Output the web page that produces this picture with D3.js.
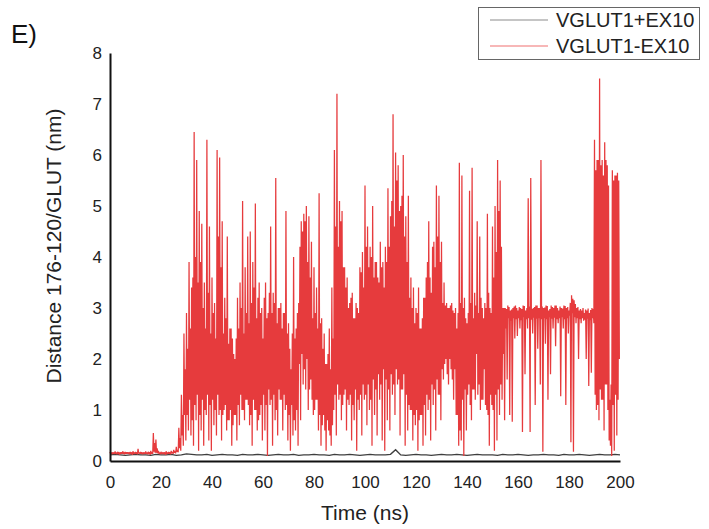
<!DOCTYPE html>
<html>
<head>
<meta charset="utf-8">
<script src="https://cdn.jsdelivr.net/npm/d3@7"></script>
<style>
  html, body { margin: 0; padding: 0; background: #fff; }
  svg { display: block; font-family: "Liberation Sans", Arial, sans-serif; }
</style>
</head>
<body>
<svg id="chart" width="709" height="529"></svg>
<script>
// Distance trace, four samples per nanosecond, in time order:
// redUpper (t), redMidLow (t+0.25), redMidHigh (t+0.5), redLower (t+0.75).
const redUpper = [
  0.18,0.17,0.19,0.18,0.17,0.19,0.18,0.17,0.18,0.19,   // 0-9
  0.18,0.24,0.18,0.17,0.19,0.18,0.20,0.55,0.42,0.20,   // 10-19
  0.18,0.17,0.19,0.18,0.20,0.22,0.28,0.65,1.30,2.50,   // 20-29
  2.90,3.90,3.40,6.45,5.90,4.90,4.65,3.50,6.30,4.60,   // 30-39
  3.60,3.10,6.10,5.95,4.70,3.20,4.40,2.60,2.40,2.00,   // 40-49
  3.20,3.50,5.10,3.80,4.40,4.50,3.90,5.05,3.20,2.90,   // 50-59
  2.40,3.50,2.90,4.60,3.30,5.55,3.00,3.10,2.90,4.90,   // 60-69
  2.70,1.80,4.00,2.60,3.10,4.70,4.85,5.00,4.80,4.30,   // 70-79
  3.80,3.40,5.25,2.80,2.50,1.90,2.60,3.40,6.10,7.20,   // 80-89
  5.10,4.90,3.80,3.60,3.10,3.30,2.80,3.00,3.80,4.10,   // 90-99
  5.40,4.60,4.20,5.00,3.90,3.60,4.30,3.90,4.20,5.35,   // 100-109
  4.80,6.80,6.05,5.80,5.00,6.00,4.80,5.20,3.60,3.40,   // 110-119
  3.00,3.40,2.60,3.20,3.60,4.70,3.30,4.30,5.40,5.20,   // 120-129
  4.30,3.50,3.10,3.00,3.10,2.90,2.60,5.85,5.60,3.20,   // 130-139
  2.70,5.30,5.75,3.30,4.70,4.40,3.00,3.10,4.85,3.00,   // 140-149
  4.60,5.00,5.90,5.50,3.00,3.00,3.05,2.95,3.00,3.05,   // 150-159
  2.95,3.00,3.05,2.95,5.15,5.55,3.00,3.05,3.00,5.90,   // 160-169
  3.00,3.05,2.95,3.05,3.00,3.05,2.95,3.00,3.05,3.00,   // 170-179
  2.95,3.25,3.15,3.00,2.95,2.95,2.90,2.95,2.90,3.00,   // 180-189
  6.30,5.90,7.50,5.90,6.25,5.80,1.20,5.70,5.60,5.65    // 190-199
];
const redMidLow = [
  0.14,0.15,0.14,0.15,0.14,0.15,0.14,0.15,0.14,0.15,   // 0-9
  0.14,0.15,0.14,0.15,0.14,0.15,0.14,0.18,0.16,0.14,   // 10-19
  0.15,0.14,0.15,0.14,0.15,0.16,0.18,0.25,0.50,0.90,   // 20-29
  0.90,1.20,0.80,1.10,1.30,0.90,1.20,1.00,1.30,1.10,   // 30-39
  1.20,1.00,1.30,1.00,0.90,1.10,0.80,1.00,0.70,0.90,   // 40-49
  1.10,1.30,1.00,1.20,1.10,0.90,1.20,1.00,0.80,1.10,   // 50-59
  1.30,1.10,1.40,1.20,1.30,1.00,1.40,1.20,1.30,1.10,   // 60-69
  0.90,1.10,0.80,1.00,1.90,2.10,1.80,2.00,1.40,1.20,   // 70-79
  1.00,1.20,0.90,0.70,0.60,0.80,0.50,0.70,1.30,1.50,   // 80-89
  1.30,1.10,1.40,1.20,1.30,1.10,1.40,1.20,1.30,1.50,   // 90-99
  1.30,1.50,1.20,1.60,1.40,1.70,1.50,1.80,1.60,1.40,   // 100-109
  1.70,1.50,1.80,1.60,1.40,1.70,1.30,1.10,1.00,0.90,   // 110-119
  1.00,0.80,0.90,1.10,1.30,1.20,1.50,1.40,1.60,1.30,   // 120-129
  1.80,1.90,1.70,2.00,1.60,1.80,0.90,0.60,1.20,1.40,   // 130-139
  1.30,1.10,1.40,1.20,1.30,1.00,1.20,1.10,0.90,1.30,   // 140-149
  1.00,1.30,1.40,1.50,2.10,2.60,2.80,2.75,2.80,2.78,   // 150-159
  2.80,2.76,2.82,2.78,2.80,2.77,2.81,2.79,2.80,2.78,   // 160-169
  2.80,2.78,2.82,2.79,2.81,2.78,2.80,2.82,2.78,2.80,   // 170-179
  2.85,2.90,2.82,2.80,2.78,2.80,2.77,2.79,2.76,2.80,   // 180-189
  1.30,1.10,1.40,1.20,1.50,1.00,0.30,1.10,1.30,1.20    // 190-199
];
const redMidHigh = [
  0.17,0.16,0.17,0.16,0.17,0.16,0.17,0.16,0.17,0.16,   // 0-9
  0.17,0.16,0.17,0.16,0.17,0.16,0.17,0.35,0.25,0.17,   // 10-19
  0.16,0.17,0.16,0.17,0.18,0.19,0.22,0.45,0.90,1.80,   // 20-29
  2.20,2.60,3.60,4.00,3.50,3.90,3.00,2.60,3.30,2.50,   // 30-39
  2.90,2.40,4.40,3.80,2.50,2.80,2.30,2.60,2.10,2.40,   // 40-49
  2.60,3.00,2.50,2.90,2.70,3.10,3.40,2.80,3.50,3.00,   // 50-59
  3.20,2.80,3.30,2.90,3.10,2.70,3.00,2.60,2.90,2.50,   // 60-69
  2.20,2.50,2.40,2.90,4.20,4.50,4.70,3.90,3.60,2.80,   // 70-79
  2.90,2.60,2.70,2.20,1.90,2.10,1.80,2.40,4.60,4.20,   // 80-89
  4.70,3.80,3.40,3.00,3.20,2.80,3.10,2.90,3.70,3.40,   // 90-99
  4.20,3.80,4.00,3.60,3.90,3.50,3.80,3.40,3.90,4.20,   // 100-109
  5.10,4.60,5.50,4.90,5.20,4.40,3.90,3.20,3.00,2.70,   // 110-119
  2.90,2.60,2.80,3.20,3.90,3.60,4.20,3.80,4.40,3.90,   // 120-129
  3.10,3.05,3.00,3.05,2.95,3.00,2.90,3.10,3.00,2.80,   // 130-139
  2.90,3.10,2.80,3.05,2.90,3.20,2.80,3.00,3.30,2.90,   // 140-149
  3.60,4.10,4.90,4.20,3.00,2.98,3.02,2.97,3.03,3.00,   // 150-159
  3.02,2.98,3.04,3.00,3.03,2.98,3.02,3.05,3.00,3.03,   // 160-169
  3.01,3.04,2.98,3.02,3.05,3.00,3.03,2.99,3.04,3.02,   // 170-179
  3.10,3.18,3.08,3.02,2.98,3.00,2.97,2.99,2.96,2.98,   // 180-189
  5.70,5.90,5.80,5.60,5.90,5.40,1.50,5.50,5.60,5.50    // 190-199
];
const redLower = [
  0.13,0.14,0.13,0.12,0.14,0.13,0.14,0.13,0.12,0.14,   // 0-9
  0.13,0.14,0.13,0.14,0.13,0.12,0.14,0.16,0.15,0.13,   // 10-19
  0.13,0.12,0.14,0.13,0.14,0.15,0.17,0.20,0.30,0.40,   // 20-29
  0.60,0.50,0.30,0.80,0.20,0.60,0.30,0.90,0.40,0.20,   // 30-39
  0.70,0.50,0.90,0.40,1.00,0.60,0.80,0.30,0.90,0.40,   // 40-49
  0.70,1.00,0.80,1.20,0.70,0.30,1.00,0.60,0.90,0.40,   // 50-59
  0.60,0.10,1.10,0.30,0.80,0.50,1.20,0.60,1.00,0.40,   // 60-69
  0.20,0.50,0.60,0.30,0.80,1.50,1.40,1.00,1.60,0.90,   // 70-79
  1.20,0.60,0.30,0.90,0.20,0.60,0.30,1.00,0.50,1.20,   // 80-89
  0.80,1.30,0.60,1.10,0.40,0.80,0.20,1.00,0.50,1.20,   // 90-99
  0.70,1.00,0.30,0.90,0.50,1.20,0.40,0.20,0.80,0.60,   // 100-109
  1.30,0.90,1.50,0.50,1.40,0.30,0.60,1.00,0.40,0.70,   // 110-119
  0.20,0.90,0.30,0.50,1.00,0.40,1.10,0.60,1.30,0.80,   // 120-129
  1.60,2.00,1.50,1.80,1.20,0.90,0.30,0.40,0.10,0.60,   // 130-139
  1.50,0.80,1.40,2.10,1.50,1.20,1.80,1.00,0.30,1.10,   // 140-149
  0.20,0.40,0.90,1.20,0.80,1.60,0.90,0.77,2.40,2.45,   // 150-159
  2.60,0.57,1.70,2.60,0.57,2.50,1.10,2.20,1.50,0.18,   // 160-169
  2.30,1.20,1.70,2.60,2.25,2.70,1.27,2.60,1.10,2.50,   // 170-179
  0.37,0.18,2.70,2.00,2.70,2.75,2.00,1.47,1.73,2.70,   // 180-189
  1.00,0.80,1.20,0.60,1.50,0.40,0.10,0.20,0.50,2.00    // 190-199
];
const redSamplesPerNs = 4;

// Second trace, sampled every 2 ns from 0 to 200 ns
const blackValues = [
  0.12,0.13,0.12,0.11,0.12,0.13,0.12,0.12,0.11,0.13,
  0.12,0.12,0.13,0.11,0.12,0.14,0.13,0.12,0.12,0.13,
  0.11,0.12,0.13,0.12,0.12,0.11,0.13,0.12,0.12,0.13,
  0.12,0.11,0.12,0.13,0.12,0.12,0.13,0.11,0.12,0.12,
  0.13,0.12,0.12,0.11,0.13,0.12,0.12,0.13,0.12,0.11,
  0.12,0.13,0.12,0.12,0.12,0.13,0.22,0.12,0.11,0.12,
  0.13,0.12,0.12,0.11,0.12,0.13,0.12,0.12,0.13,0.12,
  0.11,0.12,0.13,0.12,0.12,0.12,0.11,0.13,0.12,0.12,
  0.13,0.12,0.11,0.12,0.12,0.13,0.12,0.12,0.11,0.13,
  0.12,0.12,0.13,0.12,0.11,0.12,0.13,0.12,0.12,0.13,
  0.12
];
const blackStepNs = 2;

const xTicks = [0, 20, 40, 60, 80, 100, 120, 140, 160, 180, 200];
const yTicks = [0, 1, 2, 3, 4, 5, 6, 7, 8];
const seriesNames = ["VGLUT1+EX10", "VGLUT1-EX10"];
const seriesColors = ["#3f3f3f", "#e63b3d"];
const legendColors = ["#8c8c8c", "#ef7070"];

const svg = d3.select("#chart");
const x = d3.scaleLinear().domain([0, 200]).range([110, 620]);
const y = d3.scaleLinear().domain([0, 8]).range([461, 53]);

// Point lists
const blackPts = blackValues.map((v, i) => [i * blackStepNs, v]);
const redPts = [];
const dt = 1 / redSamplesPerNs;
redUpper.forEach((v, i) => {
  redPts.push([i, v]);
  redPts.push([i + dt, redMidLow[i]]);
  redPts.push([i + 2 * dt, redMidHigh[i]]);
  redPts.push([i + 3 * dt, redLower[i]]);
});

const line = d3.line().x(d => x(d[0])).y(d => y(d[1]));

svg.append("path")
  .attr("d", line(blackPts))
  .attr("fill", "none")
  .attr("stroke", seriesColors[0])
  .attr("stroke-width", 1.4);

svg.append("path")
  .attr("d", line(redPts))
  .attr("fill", "none")
  .attr("stroke", seriesColors[1])
  .attr("stroke-width", 1.25)
  .attr("stroke-linejoin", "miter")
  .attr("stroke-miterlimit", 2);

// Axes
const xAxis = svg.append("g")
  .attr("transform", `translate(0,${y(0)})`)
  .call(d3.axisBottom(x).tickValues(xTicks).tickSize(0).tickPadding(15).tickFormat(d3.format("d")));
const yAxis = svg.append("g")
  .attr("transform", `translate(${x(0)},0)`)
  .call(d3.axisLeft(y).tickValues(yTicks).tickSize(0).tickPadding(8).tickFormat(d3.format("d")));

[xAxis, yAxis].forEach(g => {
  g.select(".domain").attr("stroke", "#111").attr("stroke-width", 2);
  g.selectAll("text")
    .attr("fill", "#222")
    .style("font-family", "'Liberation Sans', Arial, sans-serif")
    .style("font-size", "17px");
});

// Axis titles
svg.append("text")
  .attr("x", 365).attr("y", 520)
  .attr("text-anchor", "middle")
  .attr("fill", "#222")
  .style("font-size", "21px")
  .text("Time (ns)");

svg.append("text")
  .attr("transform", "translate(61,246) rotate(-90)")
  .attr("text-anchor", "middle")
  .attr("fill", "#222")
  .style("font-size", "21px")
  .text("Distance 176-120/GLUT (nm)");

// Panel label
svg.append("text")
  .attr("x", 11).attr("y", 43)
  .attr("fill", "#111")
  .style("font-size", "26px")
  .text("E)");

// Legend
const legend = svg.append("g");
legend.append("rect")
  .attr("x", 478.5).attr("y", 7.5)
  .attr("width", 221).attr("height", 52)
  .attr("fill", "#fff")
  .attr("stroke", "#666")
  .attr("stroke-width", 1);
seriesNames.forEach((name, i) => {
  const cy = 20 + i * 26;
  legend.append("line")
    .attr("x1", 490).attr("x2", 548)
    .attr("y1", cy).attr("y2", cy)
    .attr("stroke", legendColors[i])
    .attr("stroke-width", 1.2);
  legend.append("text")
    .attr("x", 556).attr("y", cy + 7)
    .attr("fill", "#222")
    .style("font-size", "20px")
    .text(name);
});
</script>
</body>
</html>
